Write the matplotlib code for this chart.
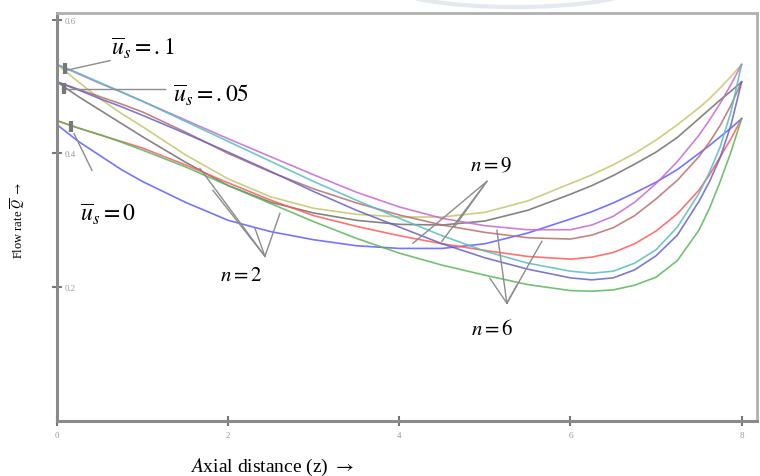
import matplotlib
matplotlib.use('Agg')
import matplotlib.pyplot as plt
from matplotlib.patches import Ellipse

# axial positions where the curves were read
z = [0, 0.25, 0.5, 0.75, 1, 1.5, 2, 2.5, 3, 3.5, 4, 4.5, 5, 5.5, 6, 6.25, 6.5, 6.75,
     7, 7.25, 7.5, 7.625, 7.75, 7.875, 8]

# u_s = .1
q_yellow = [0.533, 0.507, 0.482, 0.460, 0.440, 0.398, 0.362, 0.335, 0.318, 0.309, 0.305, 0.305,
            0.312, 0.329, 0.355, 0.368, 0.383, 0.400, 0.420, 0.443, 0.468, 0.482, 0.498, 0.515, 0.533]
q_magenta = [0.533, 0.519, 0.505, 0.492, 0.478, 0.450, 0.422, 0.395, 0.368, 0.342, 0.320, 0.303,
             0.292, 0.286, 0.286, 0.293, 0.306, 0.327, 0.355, 0.388, 0.427, 0.450, 0.475, 0.503, 0.533]
q_cyan = [0.533, 0.520, 0.506, 0.492, 0.478, 0.448, 0.418, 0.388, 0.358, 0.330, 0.303, 0.277,
          0.254, 0.236, 0.224, 0.221, 0.224, 0.236, 0.256, 0.290, 0.340, 0.372, 0.410, 0.462, 0.533]
# u_s = .05
q_gray = [0.507, 0.485, 0.465, 0.445, 0.425, 0.387, 0.352, 0.327, 0.311, 0.300, 0.294, 0.293,
          0.299, 0.315, 0.339, 0.352, 0.367, 0.384, 0.402, 0.424, 0.452, 0.466, 0.480, 0.493, 0.507]
q_brown = [0.507, 0.496, 0.485, 0.474, 0.462, 0.432, 0.400, 0.372, 0.347, 0.326, 0.308, 0.293,
           0.282, 0.274, 0.272, 0.278, 0.289, 0.307, 0.332, 0.360, 0.395, 0.417, 0.442, 0.472, 0.507]
q_slate = [0.507, 0.495, 0.482, 0.470, 0.457, 0.430, 0.402, 0.373, 0.343, 0.315, 0.290, 0.265,
           0.244, 0.227, 0.214, 0.211, 0.214, 0.226, 0.247, 0.278, 0.328, 0.358, 0.394, 0.442, 0.507]
# u_s = 0
q_blue = [0.443, 0.418, 0.397, 0.376, 0.358, 0.327, 0.300, 0.283, 0.271, 0.262, 0.258, 0.258,
          0.265, 0.281, 0.302, 0.313, 0.326, 0.341, 0.357, 0.376, 0.400, 0.412, 0.425, 0.438, 0.452]
q_red = [0.449, 0.438, 0.428, 0.418, 0.408, 0.383, 0.356, 0.330, 0.307, 0.291, 0.277, 0.265,
         0.255, 0.246, 0.242, 0.245, 0.252, 0.265, 0.284, 0.310, 0.345, 0.368, 0.395, 0.422, 0.452]
q_green = [0.449, 0.438, 0.428, 0.417, 0.405, 0.380, 0.352, 0.325, 0.298, 0.273, 0.251, 0.233,
           0.218, 0.204, 0.195, 0.194, 0.196, 0.203, 0.215, 0.240, 0.285, 0.318, 0.358, 0.402, 0.452]

curves = [
    (q_yellow, '#c4c46c'), (q_gray, '#6e6e6e'), (q_blue, '#5c5cff'),
    (q_magenta, '#c06ad0'), (q_brown, '#b47070'), (q_red, '#ff5a5a'),
    (q_cyan, '#58bcbc'), (q_slate, '#6a62c0'), (q_green, '#5cb45c'),
]

plt.rcParams['mathtext.fontset'] = 'stix'
plt.rcParams['font.family'] = 'Liberation Serif'

fig = plt.figure(figsize=(7.6, 4.77), dpi=100)

# faint watermark arc peeking in at the top edge
fig.patches.append(Ellipse((515 / 760, 1 + 12 / 477), 240 / 760, 40 / 477,
                           transform=fig.transFigure, fill=False,
                           edgecolor='#e3e9ee', lw=3, zorder=0))

ax = fig.add_axes([57 / 760, 55 / 477, 700 / 760, 408 / 477])

for q, c in curves:
    ax.plot(z, q, color=c, lw=1.2, alpha=0.85)

ax.set_xlim(0, 8.18)
ax.set_ylim(0, 0.61)
ax.set_xticks([0, 2, 4, 6, 8])
ax.set_xticklabels(['0', '2', '4', '6', '8'])
ax.set_yticks([0.2, 0.4, 0.6])
ax.set_yticklabels(['0.2', '0.4', '0.6'])
ax.tick_params(axis='both', direction='inout', length=7, width=1.5, color='#777777',
               labelsize=6.5, labelcolor='#999999')
ax.tick_params(axis='y', pad=-9)
for lbl in ax.get_yticklabels():
    lbl.set_horizontalalignment('left')
for side in ['left', 'bottom']:
    ax.spines[side].set_color('#8a8a8a')
    ax.spines[side].set_linewidth(2.2)
for side in ['top', 'right']:
    ax.spines[side].set_color('#b0b0b0')
    ax.spines[side].set_linewidth(2.0)


def px(x, y):
    # pixel position of the reference -> data coords
    return (x - 57) / 85.6, (423 - y) / 670.0


def leader(points, apex):
    ax_, ay_ = px(*apex)
    for p in points:
        x0, y0 = px(*p)
        ax.plot([x0, ax_], [y0, ay_], color='#8c8c8c', lw=1.0, clip_on=False)


# u_s annotations
leader([(65, 72)], (110, 62))
leader([(62, 90)], (165, 90))
leader([(74, 135)], (92, 172))
for (x, y) in [(65, 70), (64, 90), (71, 128)]:
    bx, by = px(x, y)
    ax.plot([bx, bx], [by - 0.008, by + 0.008], color='#777777', lw=3, solid_capstyle='butt')

# n annotations
leader([(200, 170), (213, 192), (255, 230), (280, 215)], (265, 258))
leader([(413, 245), (442, 243), (455, 228)], (487, 183))
leader([(497, 232), (490, 280), (517, 287), (542, 243)], (507, 305))

tx = dict(ha='left', va='baseline', fontsize=17, color='black')
ax.text(*px(111, 56), r'$\overline{\mathit{u}}_s = .1$', **tx)
ax.text(*px(173, 103), r'$\overline{\mathit{u}}_s = .05$', **tx)
ax.text(*px(80, 222), r'$\overline{\mathit{u}}_s = 0$', **tx)

nx = dict(ha='left', va='baseline', fontsize=15, color='black')
ax.text(*px(470, 172), r'$n = 9$', **nx)
ax.text(*px(220, 282), r'$n = 2$', **nx)
ax.text(*px(471, 336), r'$n = 6$', **nx)

fig.text(190 / 760, 1 - 472 / 477, r'$\mathit{A}$xial distance (z) $\rightarrow$',
         fontsize=14, ha='left', va='baseline')
fig.text(18 / 760, 1 - 220 / 477, r'Flow rate $\overline{Q}$ $\rightarrow$',
         fontsize=9, rotation=90, ha='center', va='center')

fig.savefig('out.png', dpi=100)
